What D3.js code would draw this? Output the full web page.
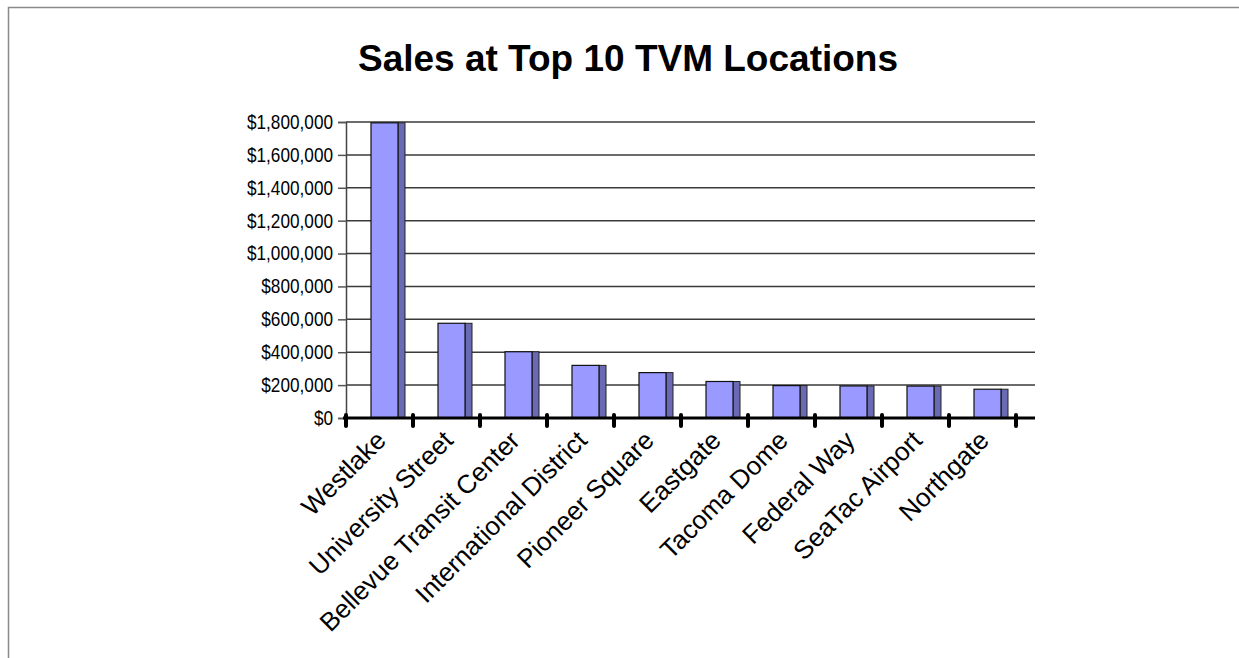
<!DOCTYPE html>
<html>
<head>
<meta charset="utf-8">
<script src="https://cdn.jsdelivr.net/npm/d3@7"></script>
<style>
  body { margin: 0; background: #fff; }
  svg { display: block; font-family: "Liberation Sans", Arial, sans-serif; }
</style>
</head>
<body>
<div id="chart"></div>
<script>
const locations = ["Westlake", "University Street", "Bellevue Transit Center", "International District",
    "Pioneer Square", "Eastgate", "Tacoma Dome", "Federal Way", "SeaTac Airport", "Northgate"];
const sales = [1795000, 576000, 403000, 320000, 276000, 222000, 197000, 195000, 194000, 175000];
const yTicks = [0, 200000, 400000, 600000, 800000, 1000000, 1200000, 1400000, 1600000, 1800000];

const W = 1239, H = 658;
const plot = {left: 346, right: 1016, top: 122, bottom: 418};
const gridEnd = 1035;

const svg = d3.select("#chart").append("svg")
    .attr("width", W)
    .attr("height", H);

// outer frame (only top and left edges are visible)
svg.append("path")
    .attr("d", "M8.5," + H + "V7.5H" + W)
    .attr("fill", "none")
    .attr("stroke", "#8a8a8a")
    .attr("stroke-width", 1.5);

svg.append("text")
    .attr("x", 628)
    .attr("y", 71)
    .attr("text-anchor", "middle")
    .style("font-size", "37px")
    .style("font-weight", "bold")
    .text("Sales at Top 10 TVM Locations");

const x = d3.scaleBand()
    .domain(locations)
    .range([plot.left, plot.right]);

const y = d3.scaleLinear()
    .domain([0, 1800000])
    .range([plot.bottom, plot.top]);

// gridlines
svg.append("g")
    .selectAll("line")
    .data(yTicks.slice(1))
    .enter()
    .append("line")
        .attr("x1", plot.left)
        .attr("x2", gridEnd)
        .attr("y1", d => y(d))
        .attr("y2", d => y(d))
        .attr("stroke", "#3a3a3a")
        .attr("stroke-width", 1.5);

// y axis, labels slightly condensed like the original
const squeeze = 0.86;
const yAxis = svg.append("g")
    .attr("transform", "translate(" + plot.left + ",0)")
    .call(d3.axisLeft(y)
        .tickValues(yTicks)
        .tickSize(8)
        .tickPadding(5)
        .tickFormat(d => "$" + d3.format(",")(d)));
yAxis.select(".domain").attr("stroke", "#444").attr("stroke-width", 1.5);
yAxis.selectAll(".tick line").attr("stroke", "#555").attr("stroke-width", 1.5);
yAxis.selectAll("text")
    .attr("fill", "#000")
    .attr("x", -13 / squeeze)
    .attr("transform", "scale(" + squeeze + ",1)")
    .style("font-size", "20px")
    .style("font-family", "'Liberation Sans', Arial, sans-serif");

// bars: front face and darker side face
const frontW = 27, sideW = 7, offset = 25;
const bars = svg.append("g")
    .selectAll("g")
    .data(locations.map((d, i) => ({name: d, value: sales[i]})))
    .enter()
    .append("g");

bars.append("rect")
    .attr("x", d => x(d.name) + offset + frontW)
    .attr("y", d => y(d.value))
    .attr("width", sideW)
    .attr("height", d => plot.bottom - y(d.value))
    .attr("fill", "#6a6ab4")
    .attr("stroke", "#222")
    .attr("stroke-width", 1);

bars.append("rect")
    .attr("x", d => x(d.name) + offset)
    .attr("y", d => y(d.value))
    .attr("width", frontW)
    .attr("height", d => plot.bottom - y(d.value))
    .attr("fill", "#9999ff")
    .attr("stroke", "#111")
    .attr("stroke-width", 1.2);

// category axis
svg.append("line")
    .attr("x1", plot.left - 3)
    .attr("x2", gridEnd)
    .attr("y1", plot.bottom)
    .attr("y2", plot.bottom)
    .attr("stroke", "#000")
    .attr("stroke-width", 3);

const catTicks = locations.map(d => x(d)).concat([plot.right]);
svg.append("g")
    .selectAll("line")
    .data(catTicks)
    .enter()
    .append("line")
        .attr("x1", d => d)
        .attr("x2", d => d)
        .attr("y1", plot.bottom - 3)
        .attr("y2", plot.bottom + 8)
        .attr("stroke", "#000")
        .attr("stroke-width", 4)
        .attr("stroke-linecap", "round");

svg.append("g")
    .selectAll("text")
    .data(locations)
    .enter()
    .append("text")
        .attr("transform", d => "translate(" + (x(d) + x.bandwidth() / 2 + 8) + "," + (plot.bottom + 24) + ") rotate(-45)")
        .attr("text-anchor", "end")
        .style("font-size", "26px")
        .text(d => d);
</script>
</body>
</html>
